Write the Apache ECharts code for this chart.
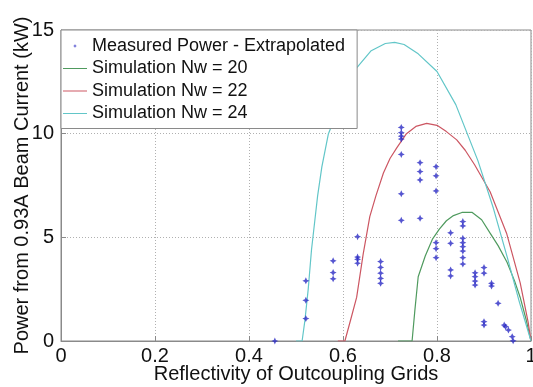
<!DOCTYPE html>
<html>
<head>
<meta charset="utf-8">
<script src="https://cdn.jsdelivr.net/npm/echarts@6/dist/echarts.min.js"></script>
<style>
	html, body { margin: 0; padding: 0; background: #fff; }
	#chart { width: 533px; height: 387px; }
</style>
</head>
<body>
<div id="chart"></div>
<script>
// measured points, [reflectivity, power kW]
const measuredPower = [
	[ 0.455, 0 ],
	[ 0.521, 2.9 ], [ 0.521, 1.96 ], [ 0.521, 1.08 ],
	[ 0.579, 3.87 ], [ 0.579, 3.3 ], [ 0.579, 3.0 ],
	[ 0.631, 5.03 ], [ 0.631, 4.05 ], [ 0.631, 3.94 ], [ 0.631, 3.75 ],
	[ 0.68, 3.83 ], [ 0.68, 3.55 ], [ 0.68, 3.27 ], [ 0.68, 3.02 ], [ 0.68, 2.78 ],
	[ 0.724, 10.3 ], [ 0.724, 10.05 ], [ 0.724, 9.88 ], [ 0.724, 9.74 ], [ 0.724, 9.0 ], [ 0.724, 7.1 ], [ 0.724, 5.82 ],
	[ 0.764, 8.6 ], [ 0.764, 8.17 ], [ 0.764, 7.77 ], [ 0.764, 5.92 ],
	[ 0.798, 8.41 ], [ 0.798, 7.97 ], [ 0.798, 7.24 ], [ 0.798, 4.74 ], [ 0.798, 4.45 ], [ 0.798, 4.02 ],
	[ 0.829, 5.22 ], [ 0.829, 4.71 ], [ 0.829, 3.43 ], [ 0.829, 3.14 ],
	[ 0.855, 5.76 ], [ 0.855, 5.55 ], [ 0.855, 4.95 ], [ 0.855, 4.74 ], [ 0.855, 4.55 ], [ 0.855, 4.34 ], [ 0.855, 4.02 ], [ 0.855, 3.71 ],
	[ 0.881, 3.29 ], [ 0.881, 3.1 ], [ 0.881, 2.89 ], [ 0.881, 2.7 ],
	[ 0.9, 3.54 ], [ 0.9, 3.27 ], [ 0.9, 0.93 ], [ 0.9, 0.77 ],
	[ 0.916, 2.78 ], [ 0.916, 2.65 ],
	[ 0.93, 1.82 ],
	[ 0.943, 0.77 ], [ 0.946, 0.69 ], [ 0.952, 0.53 ], [ 0.96, 0.21 ], [ 0.962, 0.01 ]
];

const simNw20 = [
	[ 0.717, 0 ], [ 0.747, 0 ], [ 0.753, 1.5 ], [ 0.76, 3.1 ], [ 0.775, 4.1 ], [ 0.79, 4.9 ],
	[ 0.805, 5.4 ], [ 0.82, 5.8 ], [ 0.835, 6.05 ], [ 0.853, 6.2 ], [ 0.875, 6.2 ], [ 0.895, 5.85 ],
	[ 0.913, 5.2 ], [ 0.93, 4.6 ], [ 0.949, 3.8 ], [ 0.965, 2.9 ], [ 0.977, 2.1 ], [ 0.99, 1.0 ], [ 1.0, 0 ]
];

const simNw22 = [
	[ 0.589, 0 ], [ 0.604, 0 ], [ 0.616, 1.0 ], [ 0.629, 2.1 ], [ 0.643, 4.2 ], [ 0.657, 6.0 ],
	[ 0.67, 7.0 ], [ 0.686, 8.1 ], [ 0.7, 8.8 ], [ 0.714, 9.3 ], [ 0.735, 10.0 ], [ 0.755, 10.35 ],
	[ 0.778, 10.5 ], [ 0.8, 10.4 ], [ 0.82, 10.1 ], [ 0.842, 9.7 ], [ 0.86, 9.2 ], [ 0.88, 8.5 ],
	[ 0.913, 7.2 ], [ 0.948, 5.2 ], [ 0.977, 2.8 ], [ 0.994, 0.9 ], [ 1.0, 0 ]
];

const simNw24 = [
	[ 0.5, 0 ], [ 0.513, 0 ], [ 0.519, 1.0 ], [ 0.526, 2.5 ], [ 0.533, 4.4 ], [ 0.54, 5.8 ],
	[ 0.546, 7.0 ], [ 0.555, 8.4 ], [ 0.569, 10.0 ], [ 0.578, 10.5 ], [ 0.6, 11.9 ], [ 0.63, 13.2 ],
	[ 0.66, 14.0 ], [ 0.69, 14.35 ], [ 0.71, 14.4 ], [ 0.73, 14.3 ], [ 0.76, 13.85 ], [ 0.8, 13.0 ],
	[ 0.84, 11.4 ], [ 0.887, 8.7 ], [ 0.92, 6.4 ], [ 0.95, 4.0 ], [ 0.975, 1.9 ], [ 1.0, 0 ]
];

const seriesNames = [
	'Measured Power - Extrapolated',
	'Simulation Nw = 20',
	'Simulation Nw = 22',
	'Simulation Nw = 24'
];

const font = '"Liberation Sans", Arial, sans-serif';
const frameColor = '#8a8a8a';
const starPath = 'path://M0,-1L0.32,-0.32L1,0L0.32,0.32L0,1L-0.32,0.32L-1,0L-0.32,-0.32Z';
// legend icons are padded out to the 24x14 box so they draw small / thin
const legendStar = 'path://M-12,-7L-12,-7M12,7L12,7M0,-2L0.6,-0.6L2,0L0.6,0.6L0,2L-0.6,0.6L-2,0L-0.6,-0.6Z';
const legendLine = 'path://M0,0L0,0M24,14L24,14M0,6.5L24,6.5L24,7.5L0,7.5Z';

const chart = echarts.init( document.getElementById( 'chart' ), null, { renderer: 'canvas' } );

const lineSeries = ( name, data, color ) => ( {
	name: name,
	type: 'line',
	data: data,
	symbol: 'none',
	showSymbol: false,
	lineStyle: { color: color, width: 1.2 },
	itemStyle: { color: color },
	z: 2
} );

chart.setOption( {
	animation: false,
	backgroundColor: '#fff',
	textStyle: { fontFamily: font },
	grid: {
		left: 61,
		right: 2,
		top: 30,
		bottom: 46,
		outerBoundsMode: 'none',
		containLabel: false,
		show: true,
		borderColor: frameColor,
		borderWidth: 1
	},
	legend: {
		orient: 'vertical',
		left: 61,
		top: 30,
		padding: [ 7, 12, 6, 2 ],
		itemWidth: 24,
		itemHeight: 14,
		itemGap: 4.5,
		backgroundColor: '#fff',
		borderColor: frameColor,
		borderWidth: 1,
		borderRadius: 0,
		textStyle: { fontSize: 18, color: '#111', fontFamily: font, lineHeight: 17 },
		data: [
			{ name: seriesNames[ 0 ], icon: legendStar },
			{ name: seriesNames[ 1 ], icon: legendLine },
			{ name: seriesNames[ 2 ], icon: legendLine },
			{ name: seriesNames[ 3 ], icon: legendLine }
		]
	},
	xAxis: {
		type: 'value',
		min: 0,
		max: 1,
		interval: 0.2,
		name: 'Reflectivity of Outcoupling Grids',
		nameLocation: 'middle',
		nameGap: 23,
		nameMoveOverlap: false,
		nameTextStyle: { fontSize: 20, color: '#111', fontFamily: font },
		axisLine: { lineStyle: { color: frameColor } },
		axisTick: { inside: true, length: 5, lineStyle: { color: frameColor } },
		axisLabel: {
			fontSize: 20,
			color: '#111',
			margin: 5,
			formatter: ( v ) => String( parseFloat( v.toFixed( 1 ) ) )
		},
		splitLine: { show: true, lineStyle: { color: '#b0b0b0', type: [ 1, 2 ] } }
	},
	yAxis: {
		type: 'value',
		min: 0,
		max: 15,
		interval: 5,
		name: 'Power from 0.93A Beam Current (kW)',
		nameLocation: 'middle',
		nameGap: 29,
		nameMoveOverlap: false,
		nameTextStyle: { fontSize: 20, color: '#111', fontFamily: font },
		axisLine: { show: true, lineStyle: { color: frameColor } },
		axisTick: { show: true, inside: true, length: 5, lineStyle: { color: frameColor } },
		axisLabel: { fontSize: 20, color: '#111', margin: 7 },
		splitLine: { show: true, lineStyle: { color: '#b0b0b0', type: [ 1, 2 ] } }
	},
	series: [
		{
			name: seriesNames[ 0 ],
			type: 'scatter',
			data: measuredPower,
			symbol: starPath,
			symbolSize: 7,
			itemStyle: { color: '#2b2bc4' },
			z: 3
		},
		lineSeries( seriesNames[ 1 ], simNw20, '#4f9a5e' ),
		lineSeries( seriesNames[ 2 ], simNw22, '#cc5662' ),
		lineSeries( seriesNames[ 3 ], simNw24, '#62c6c8' )
	]
} );
</script>
</body>
</html>
